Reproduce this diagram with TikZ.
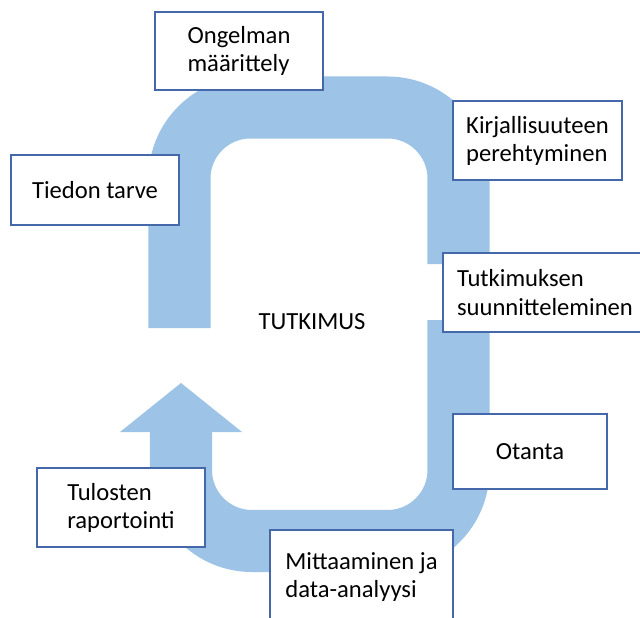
\documentclass[tikz,border=0pt]{standalone}
\usepackage{fontspec}
\setmainfont{Carlito}
\definecolor{kaista}{RGB}{157,195,230}
\definecolor{reuna}{RGB}{68,104,170}
\tikzset{
  laatikko/.style={draw=reuna, line width=0.9pt, fill=white, align=left,
    inner sep=0pt, font=\fontsize{17.5}{20}\selectfont},
  kaari/.style={draw=kaista, line width=1.55cm, rounded corners=1.775cm, line cap=butt}
}
\begin{document}
\begin{tikzpicture}[x=0.025cm, y=-0.025cm]
					\useasboundingbox (0,0) rectangle (640,618);
					% sininen kaari ylhaalla ja alhaalla
					\draw [kaari] (179.5,328) -- (179.5,107.5) -- (458.5,107.5) -- (458.5,264);
					\draw [kaari] (458.5,320) -- (458.5,541) -- (181,541) -- (181,432);
					\fill [kaista] (120,432) -- (181,383) -- (242,432) -- cycle;
					% vaiheet
					\node [laatikko, minimum width=168*0.025cm, minimum height=78*0.025cm] (ongelma) at (239,51) {Ongelman\\määrittely};
					\node [laatikko, minimum width=168*0.025cm, minimum height=70*0.025cm] (tarve) at (95,190) {Tiedon tarve};
					\node [laatikko, minimum width=169*0.025cm, minimum height=79*0.025cm] (kirjallisuus) at (537.5,140.5) {Kirjallisuuteen\\perehtyminen};
					\node [laatikko, minimum width=204*0.025cm, minimum height=79*0.025cm] (suunnittelu) at (545,292.5) {Tutkimuksen\\suunnitteleminen};
					\node [laatikko, minimum width=154*0.025cm, minimum height=75*0.025cm] (otanta) at (530,451.5) {Otanta};
					\node [laatikko, minimum width=168*0.025cm, minimum height=79*0.025cm] (raportointi) at (121,507.5) {Tulosten\\raportointi};
					\node [laatikko, minimum width=183*0.025cm, minimum height=94*0.025cm] (mittaus) at (361.5,577) {Mittaaminen ja\\data-analyysi};
					\node [font=\fontsize{17.5}{20}\selectfont] (tutkimus) at (312,322) {TUTKIMUS};
				\end{tikzpicture}
\end{document}
